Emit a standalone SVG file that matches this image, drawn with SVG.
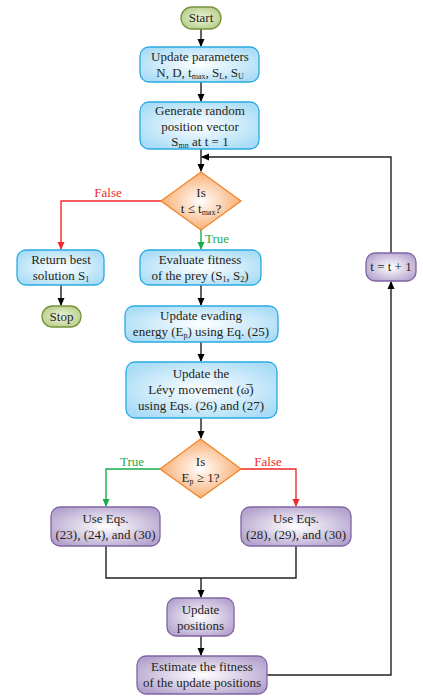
<svg xmlns="http://www.w3.org/2000/svg" width="423" height="698" viewBox="0 0 423 698">
<defs>
<radialGradient id="gBlue" cx="50%" cy="50%" r="60%"><stop offset="0" stop-color="#ffffff"/><stop offset="1" stop-color="#a9dcf6"/></radialGradient>
<radialGradient id="gPurple" cx="50%" cy="50%" r="60%"><stop offset="0" stop-color="#ffffff"/><stop offset="1" stop-color="#b3a2cd"/></radialGradient>
<radialGradient id="gOrange" cx="50%" cy="50%" r="55%"><stop offset="0" stop-color="#ffffff"/><stop offset="1" stop-color="#f8a766"/></radialGradient>
<radialGradient id="gGreen" cx="50%" cy="50%" r="60%"><stop offset="0" stop-color="#eef5df"/><stop offset="1" stop-color="#b3cc82"/></radialGradient>
<marker id="aK" markerWidth="8" markerHeight="8" refX="7" refY="4" orient="auto" markerUnits="userSpaceOnUse"><path d="M0,0.5 L8,4 L0,7.5 Z" fill="#000"/></marker>
<marker id="aR" markerWidth="8" markerHeight="8" refX="7" refY="4" orient="auto" markerUnits="userSpaceOnUse"><path d="M0,0.5 L8,4 L0,7.5 Z" fill="#ee2a2a"/></marker>
<marker id="aG" markerWidth="8" markerHeight="8" refX="7" refY="4" orient="auto" markerUnits="userSpaceOnUse"><path d="M0,0.5 L8,4 L0,7.5 Z" fill="#1aab4b"/></marker>
</defs>
<style>
text{font-family:"Liberation Serif","Times New Roman",serif;font-size:13px;fill:#231f20;text-anchor:middle}
.sub{font-size:8px}
.blue{fill:url(#gBlue);stroke:#2aaae2;stroke-width:1.3}
.purple{fill:url(#gPurple);stroke:#8064a2;stroke-width:1.3}
.orange{fill:url(#gOrange);stroke:#f0862a;stroke-width:1.3}
.green{fill:url(#gGreen);stroke:#77933c;stroke-width:1.3}
.k{fill:none;stroke:#231f20;stroke-width:1.4}
.r{fill:none;stroke:#ee2a2a;stroke-width:1.4}
.g{fill:none;stroke:#1aab4b;stroke-width:1.4}
.lr{fill:#ee2a2a}
.lg{fill:#1aab4b}
</style>
<g id="connectors">
<line class="k" x1="201" y1="29" x2="201" y2="46" marker-end="url(#aK)"/>
<line class="k" x1="201" y1="82" x2="201" y2="101" marker-end="url(#aK)"/>
<line class="k" x1="201" y1="149" x2="201" y2="171" marker-end="url(#aK)"/>
<polyline class="r" points="161,201 61,201 61,249" marker-end="url(#aR)"/>
<text class="lr" x="108" y="197">False</text>
<line class="g" x1="201" y1="230" x2="201" y2="249" marker-end="url(#aG)"/>
<text class="lg" x="217" y="243">True</text>
<line class="k" x1="61" y1="285" x2="61" y2="305" marker-end="url(#aK)"/>
<line class="k" x1="201" y1="285" x2="201" y2="305" marker-end="url(#aK)"/>
<line class="k" x1="201" y1="342" x2="201" y2="361" marker-end="url(#aK)"/>
<line class="k" x1="201" y1="418" x2="201" y2="438" marker-end="url(#aK)"/>
<polyline class="g" points="160,469 106,469 106,506" marker-end="url(#aG)"/>
<text class="lg" x="132" y="466">True</text>
<polyline class="r" points="241,469 296,469 296,506" marker-end="url(#aR)"/>
<text class="lr" x="268" y="466">False</text>
<polyline class="k" points="106,546 106,578 296,578 296,546"/>
<line class="k" x1="201" y1="578" x2="201" y2="597" marker-end="url(#aK)"/>
<line class="k" x1="201" y1="636" x2="201" y2="655" marker-end="url(#aK)"/>
<polyline class="k" points="267,675 391,675 391,282" marker-end="url(#aK)"/>
<polyline class="k" points="391,253 391,157 202,157" marker-end="url(#aK)"/>
</g>
<g id="start"><rect class="green" x="181" y="7" width="40" height="22" rx="11"/><text x="201" y="22">Start</text></g>
<g id="update-params"><rect class="blue" x="140" y="47" width="119" height="35" rx="9"/>
<text x="200" y="61">Update parameters</text>
<text x="200" y="77">N, D, t<tspan class="sub" dy="2">max</tspan><tspan dy="-2">, S</tspan><tspan class="sub" dy="2">L</tspan><tspan dy="-2">, S</tspan><tspan class="sub" dy="2">U</tspan></text></g>
<g id="generate"><rect class="blue" x="140" y="102" width="119" height="47" rx="9"/>
<text x="200" y="115">Generate random</text>
<text x="200" y="131">position vector</text>
<text x="200" y="146">S<tspan class="sub" dy="2">mn</tspan><tspan dy="-2"> at t = 1</tspan></text></g>
<g id="decision1"><polygon class="orange" points="201,172 241,201 201,230 161,201"/>
<text x="201" y="197">Is</text>
<text x="201" y="213">t ≤ t<tspan class="sub" dy="2">max</tspan><tspan dy="-2">?</tspan></text></g>
<g id="return-best"><rect class="blue" x="17" y="250" width="87" height="35" rx="9"/>
<text x="61" y="264">Return best</text>
<text x="61" y="280">solution S<tspan class="sub" dy="2">1</tspan></text></g>
<g id="stop"><rect class="green" x="42" y="306" width="39" height="21" rx="10.5"/><text x="61.5" y="321">Stop</text></g>
<g id="evaluate"><rect class="blue" x="140" y="250" width="121" height="35" rx="9"/>
<text x="200" y="264">Evaluate fitness</text>
<text x="200" y="280">of the prey (S<tspan class="sub" dy="2">1</tspan><tspan dy="-2">, S</tspan><tspan class="sub" dy="2">2</tspan><tspan dy="-2">)</tspan></text></g>
<g id="tt1"><rect class="purple" x="366" y="253" width="50" height="28" rx="9"/><text x="391" y="271">t = t + 1</text></g>
<g id="evading"><rect class="blue" x="125" y="306" width="153" height="36" rx="9"/>
<text x="201" y="320">Update evading</text>
<text x="201" y="336">energy (E<tspan class="sub" dy="2">p</tspan><tspan dy="-2">) using Eq. (25)</tspan></text></g>
<g id="levy"><rect class="blue" x="126" y="362" width="151" height="56" rx="9"/>
<text x="201" y="378">Update the</text>
<text x="201" y="394">Lévy movement (ω̅)</text>
<text x="201" y="410">using Eqs. (26) and (27)</text></g>
<g id="decision2"><polygon class="orange" points="200.5,439 241,469 200.5,498 160,469"/>
<text x="200.5" y="466">Is</text>
<text x="200.5" y="482">E<tspan class="sub" dy="2">p</tspan><tspan dy="-2"> ≥ 1?</tspan></text></g>
<g id="use-left"><rect class="purple" x="51" y="507" width="109" height="39" rx="9"/>
<text x="105.5" y="523">Use Eqs.</text>
<text x="105.5" y="539">(23), (24), and (30)</text></g>
<g id="use-right"><rect class="purple" x="241" y="507" width="110" height="39" rx="9"/>
<text x="296" y="523">Use Eqs.</text>
<text x="296" y="539">(28), (29), and (30)</text></g>
<g id="update-positions"><rect class="purple" x="167" y="598" width="67" height="38" rx="9"/>
<text x="200.5" y="614">Update</text>
<text x="200.5" y="630">positions</text></g>
<g id="estimate"><rect class="purple" x="137" y="656" width="130" height="38" rx="9"/>
<text x="202" y="671">Estimate the fitness</text>
<text x="202" y="687">of the update positions</text></g>
</svg>
